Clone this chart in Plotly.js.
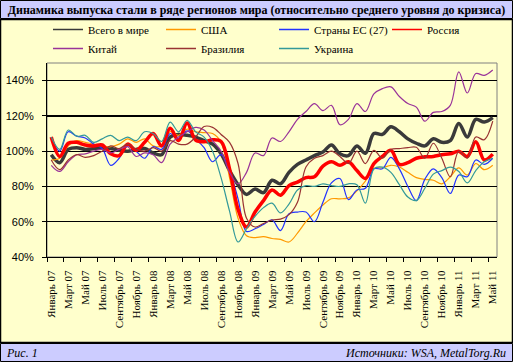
<!DOCTYPE html>
<html><head><meta charset="utf-8">
<script src="https://cdn.plot.ly/plotly-3.0.1.min.js"></script>
<style>html,body{margin:0;padding:0;background:#fff;} #chart{width:513px;height:362px;}</style>
</head><body><div id="chart"></div>
<script>
const months = [
 'Январь 07','Февраль 07','Март 07','Апрель 07','Май 07','Июнь 07','Июль 07','Август 07','Сентябрь 07','Октябрь 07','Ноябрь 07','Декабрь 07',
 'Январь 08','Февраль 08','Март 08','Апрель 08','Май 08','Июнь 08','Июль 08','Август 08','Сентябрь 08','Октябрь 08','Ноябрь 08','Декабрь 08',
 'Январь 09','Февраль 09','Март 09','Апрель 09','Май 09','Июнь 09','Июль 09','Август 09','Сентябрь 09','Октябрь 09','Ноябрь 09','Декабрь 09',
 'Январь 10','Февраль 10','Март 10','Апрель 10','Май 10','Июнь 10','Июль 10','Август 10','Сентябрь 10','Октябрь 10','Ноябрь 10','Декабрь 10',
 'Январь 11','Февраль 11','Март 11','Апрель 11','Май 11'];
const tickLabels = ['Январь 07','Март 07','Май 07','Июль 07','Сентябрь 07','Ноябрь 07',
 'Январь 08','Март 08','Май 08','Июль 08','Сентябрь 08','Ноябрь 08',
 'Январь 09','Март 09','Май 09','Июль 09','Сентябрь 09','Ноябрь 09',
 'Январь 10','Март 10','Май 10','Июль 10','Сентябрь 10','Ноябрь 10',
 'Январь 11','Март 11','Май 11'];
const yTicks = [40, 60, 80, 100, 120, 140];

const world = [98,93.5,101,102,101,101.5,102,101.5,100.5,100,101,101.5,99,98,108,109.5,109,108,106,104,98.5,89,81,75.5,78.5,76.5,83.5,81.5,88,92.5,95,97.5,99.5,103.5,98.5,97.5,103,98.8,110,109.5,113.8,111,107,104.5,103,107,105,106,115.7,108,118,116.5,119];
const usa = [95,96,103,106,105,104,103,102.5,104,107,105,107,103,103,111,109,112.5,111,110.5,110,105,85,62,52,51,51.5,50.5,50,48.5,53.5,60,65,69.5,73,73,73.5,77.5,83,90.3,90.5,92,91,88,85,84,83.5,81.5,85.5,90.5,86.5,93,89.5,92];
const eu = [107,100,111,108.5,107.5,104,101.5,92,96,103,100,96,102.5,101,110,107,111.5,107,102,94,98,89,73,54.5,56,58.5,61,55,64.5,65.5,65.5,60,71,82,84.5,72.5,78,79,90,90,96.5,90,80,72,84,90,85,76,86.5,85.5,95,92.5,96];
const russia = [108,97,104.5,105,103.5,103,103.5,98.5,97.5,104,100.5,105,110,103,113,106,116,106.3,105.3,106.5,105.5,90,67,57,65.5,72,78,75,80.5,82.5,85,85.5,91.5,94,92,94,89,84.5,93,97,100.5,92.5,93.5,96,96.8,97,98,98.5,100,97,105.3,95,98.3];
const china = [92,88.5,94,98,98.5,100,101,99,101,102.5,97,99,98,93.5,104,108,111,113.5,112,106,100,88,81.5,88,99,97.5,107.5,105.5,111,118,122.5,127,123,126,115,118,127,122.5,132.5,135.5,136.5,131,127,125,117,122,122.5,126,145,133,144,143,146];
const brazil = [95,89.5,95,98,96.5,97.5,100,103,101.5,104,101,100,102,100,106,104,104,108,114,113.5,109.5,105,93,62,57,59,61,61.5,64,71,91,96,97.5,100,97,93,100,93,100.5,96,101,101.5,102,102.2,96,104.5,96,85.5,100,96,108,106.5,117];
const ukraine = [108,101,112,108.5,109,105,107,109,106,108,106,111,110,105.5,116.5,111,117.5,111,108,100,85,66,48.5,56,63,68,70.5,65,70,78,80.5,80,81.5,80.5,80,81.5,81,70.5,90,91,88,81,74,72,79,87,89,91,88.5,82,89,94,96];

const names = ['Всего в мире','США','Страны ЕС (27)','Россия','Китай','Бразилия','Украина'];
const series = [world, usa, eu, russia, china, brazil, ukraine];
const colors = ['#3a3a3a','#FF9900','#2233FF','#FF0000','#993399','#993333','#339999'];
const widths = [3.5,1.2,1.2,3.5,1.2,1.2,1.2];

const traces = [];
series.forEach((s,k)=>{
  traces.push({type:'scatter', mode:'lines', x: months, y: s, name: names[k], showlegend:false,
    line:{color:colors[k], width:widths[k], shape:'spline', smoothing:1}, hoverinfo:'skip'});
});
// legend entries (thin sample lines as in the original legend)
series.forEach((s,k)=>{
  traces.push({type:'scatter', mode:'lines', x:[null], y:[null], name: names[k], showlegend:true,
    line:{color:colors[k], width:1.5}, hoverinfo:'skip'});
});
// boundary tick marks axis
const boundaryTicks = [];
for (let i=0;i<months.length;i+=2) boundaryTicks.push(i-0.5);
traces.push({type:'scatter', mode:'lines', x:[null], y:[null], xaxis:'x2', showlegend:false, hoverinfo:'skip'});

const L=47, T=63, W=450, H=194;
const px = v => (v-L)/W;
const py = v => (T+H-v)/H;

const layout = {
  width:513, height:362,
  margin:{l:L, r:513-L-W, t:T, b:362-T-H},
  paper_bgcolor:'#ffffff', plot_bgcolor:'#C0C0C0',
  font:{family:'Liberation Serif, Times New Roman, serif', color:'#000'},
  title:{text:'<b>Динамика выпуска стали в ряде регионов мира (относительно среднего уровня до кризиса)</b>',
    font:{family:'Liberation Serif, serif', size:12, color:'#000'},
    x:0.5, xref:'container', xanchor:'center', y:1-9.5/362, yref:'container', yanchor:'middle', pad:{t:0,b:0,l:0,r:0}},
  xaxis:{type:'category', categoryorder:'array', categoryarray: months, range:[-0.5, 52.5],
    tickmode:'array', tickvals: tickLabels, ticktext: tickLabels, tickangle:-90, ticks:'',
    tickfont:{family:'Liberation Serif, serif', size:11, color:'#000'},
    showgrid:false, showline:true, linecolor:'#000', linewidth:1, zeroline:false, ticklabelstandoff:8},
  xaxis2:{overlaying:'x', anchor:'y', side:'bottom', type:'linear', range:[-0.5,52.5],
    tickmode:'array', tickvals: boundaryTicks, ticks:'outside', ticklen:4, tickcolor:'#000', tickwidth:1,
    showticklabels:false, showgrid:false, showline:false, zeroline:false},
  yaxis:{range:[40,150], tickmode:'array', tickvals:yTicks, ticktext: yTicks.map(v=>v+'%'),
    ticks:'outside', ticklen:4, tickcolor:'#000', showgrid:true, gridcolor:'#000', gridwidth:1.3,
    showline:true, linecolor:'#000', linewidth:1, zeroline:false,
    tickfont:{family:'Liberation Sans, Arial, sans-serif', size:11, color:'#000'}, ticklabelstandoff:6},
  legend:{orientation:'h', xref:'container', x:48/513, xanchor:'left', yref:'container', y:1-15/362, yanchor:'top',
    entrywidth:68, entrywidthmode:'pixels', bgcolor:'rgba(0,0,0,0)', itemwidth:30, tracegroupgap:0,
    font:{family:'Liberation Serif, serif', size:11, color:'#000'}},
  shapes:[
    {type:'rect', xref:'paper', yref:'paper', x0:px(0.5), x1:px(512.5), y0:py(18.5), y1:py(0.5), fillcolor:'#CCCCFF', line:{color:'#000', width:1}, layer:'below'},
    {type:'rect', xref:'paper', yref:'paper', x0:px(0.5), x1:px(512.5), y0:py(342.5), y1:py(19.5), fillcolor:'#FFFFCC', line:{color:'#000', width:1.5}, layer:'below'},
    {type:'rect', xref:'paper', yref:'paper', x0:px(0.5), x1:px(512.5), y0:py(361.5), y1:py(343.5), fillcolor:'#CCCCFF', line:{color:'#000', width:1}, layer:'below'},
    {type:'rect', xref:'paper', yref:'paper', x0:0, x1:1, y0:0, y1:1, line:{color:'#808080', width:1}, layer:'below'}
  ],
  annotations:[
    {text:'<i>Рис. 1</i>', xref:'paper', yref:'paper', x:px(4), y:py(352.5), xanchor:'left', yanchor:'middle', showarrow:false,
     font:{family:'Liberation Serif, serif', size:12, color:'#000'}},
    {text:'<i>Источники: WSA, MetalTorg.Ru</i>', xref:'paper', yref:'paper', x:px(508), y:py(352.5), xanchor:'right', yanchor:'middle', showarrow:false,
     font:{family:'Liberation Serif, serif', size:12, color:'#000'}}
  ]
};
Plotly.newPlot('chart', traces, layout, {displayModeBar:false, staticPlot:true});
</script></body></html>
